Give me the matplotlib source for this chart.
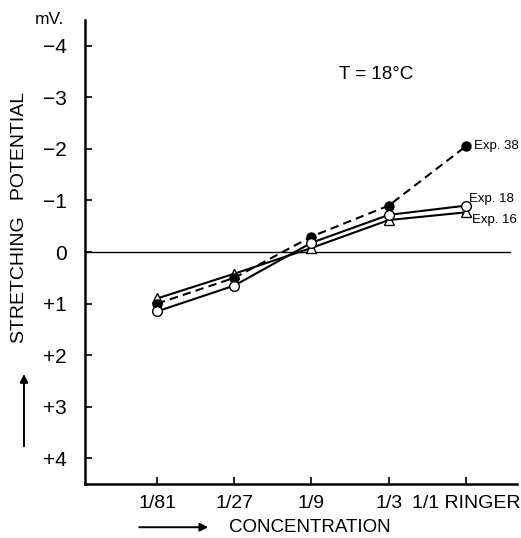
import matplotlib.pyplot as plt

plt.rcParams["font.family"] = ["Liberation Sans", "DejaVu Sans"]

# concentration steps (x positions 1..5) and readings in mV
conc_labels = ["1/81", "1/27", "1/9", "1/3", "1/1 RINGER"]
conc_pos = [1, 2, 3, 4, 5]
exp38 = [1.0, 0.5, -0.3, -0.9, -2.05]
exp18 = [1.15, 0.65, -0.18, -0.72, -0.9]
exp16 = [0.9, 0.42, -0.08, -0.62, -0.77]

y_ticks = [-4, -3, -2, -1, 0, 1, 2, 3, 4]
y_ticklabels = ["−4", "−3", "−2", "−1", "0", "+1", "+2", "+3", "+4"]

fig = plt.figure(figsize=(5.21, 5.38), dpi=100)
ax = fig.add_axes([0.163, 0.100, 0.829, 0.863])

# zero reference line
ax.axhline(0, color="black", linewidth=1.0, xmax=0.985)

ax.plot(conc_pos, exp38, color="black", linestyle=(0, (4, 2.5)), linewidth=1.5,
        marker="o", markersize=6.5, markerfacecolor="black", zorder=3)
ax.plot(conc_pos, exp18, color="black", linewidth=1.5,
        marker="o", markersize=7, markerfacecolor="white", zorder=4)
ax.plot(conc_pos, exp16, color="black", linewidth=1.5,
        marker="^", markersize=7, markerfacecolor="white", zorder=2)

ax.text(5.1, exp38[4], "Exp. 38", fontsize=9.5, va="center", ha="left")
ax.text(5.04, exp18[4] - 0.13, "Exp. 18", fontsize=9.5, va="center", ha="left")
ax.text(5.08, exp16[4] + 0.14, "Exp. 16", fontsize=9.5, va="center", ha="left")

ax.text(3.35, -3.45, "T = 18°C", fontsize=13.5, ha="left", va="center")

ax.set_xlim(0.065, 5.66)
ax.set_ylim(4.5, -4.5)

ax.set_xticks(conc_pos)
ax.set_xticklabels(conc_labels, fontsize=14)
ax.set_yticks(y_ticks)
ax.set_yticklabels(y_ticklabels, fontsize=15)
ax.tick_params(direction="in", length=5, width=1.2)
ax.tick_params(axis="x", pad=8)
ax.tick_params(axis="y", pad=13)

for side in ["top", "right"]:
    ax.spines[side].set_visible(False)
for side in ["left", "bottom"]:
    ax.spines[side].set_linewidth(1.8)

fig.text(0.095, 0.963, "mV.", fontsize=12.5, ha="center", va="center")

fig.text(0.038, 0.595, "STRETCHING   POTENTIAL", fontsize=14, rotation=90,
         ha="center", va="center")
ax.annotate("", xy=(0.046, 0.31), xytext=(0.046, 0.165), xycoords="figure fraction",
            textcoords="figure fraction",
            arrowprops=dict(arrowstyle="-|>", color="black", lw=1.4, mutation_scale=12))

fig.text(0.44, 0.02, "CONCENTRATION", fontsize=13.5, ha="left", va="center")
ax.annotate("", xy=(0.405, 0.02), xytext=(0.262, 0.02), xycoords="figure fraction",
            textcoords="figure fraction",
            arrowprops=dict(arrowstyle="-|>", color="black", lw=1.4, mutation_scale=12))

fig.savefig("out.png", dpi=100)
